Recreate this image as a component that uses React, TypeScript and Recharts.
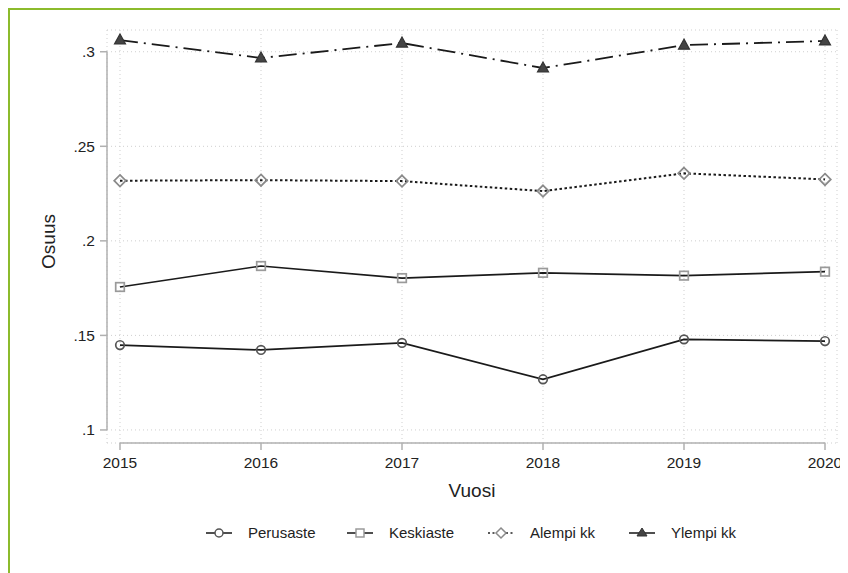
import React from 'react';
import { LineChart, Line, XAxis, YAxis, CartesianGrid, ReferenceLine } from 'recharts';

const years = [2015, 2016, 2017, 2018, 2019, 2020];
const perusaste = [0.1449, 0.1423, 0.146, 0.1268, 0.1479, 0.147];
const keskiaste = [0.1756, 0.1867, 0.1803, 0.1831, 0.1816, 0.1837];
const alempiKk = [0.2318, 0.2321, 0.2316, 0.2263, 0.2357, 0.2325];
const ylempiKk = [0.3062, 0.2967, 0.3046, 0.2914, 0.3035, 0.3057];
const yTicks = [0.1, 0.15, 0.2, 0.25, 0.3];
const yTickLabels: Record<string, string> = { '0.1': '.1', '0.15': '.15', '0.2': '.2', '0.25': '.25', '0.3': '.3' };

const data = years.map((y, i) => ({
  year: y,
  perusaste: perusaste[i],
  keskiaste: keskiaste[i],
  alempi: alempiKk[i],
  ylempi: ylempiKk[i],
}));

const FONT = '"Liberation Sans", Arial, sans-serif';
const X_DOMAIN: [number, number] = [2014.9078, 2020.0851];
const Y_DOMAIN: [number, number] = [0.0931, 0.3115];

const CircleDot = (p: any) => (
  <circle key={p.key} cx={p.cx} cy={p.cy} r={4.3} fill="none" stroke="#555" strokeWidth={1.7} />
);
const SquareDot = (p: any) => (
  <rect key={p.key} x={p.cx - 4.3} y={p.cy - 4.3} width={8.6} height={8.6} fill="none" stroke="#9a9a9a" strokeWidth={1.7} />
);
const DiamondDot = (p: any) => (
  <polygon key={p.key} points={`${p.cx},${p.cy - 5.8} ${p.cx + 5.8},${p.cy} ${p.cx},${p.cy + 5.8} ${p.cx - 5.8},${p.cy}`} fill="none" stroke="#8a8a8a" strokeWidth={1.7} />
);
const TriangleDot = (p: any) => (
  <polygon key={p.key} points={`${p.cx},${p.cy - 6} ${p.cx + 5.5},${p.cy + 4} ${p.cx - 5.5},${p.cy + 4}`} fill="#444" stroke="#333" strokeWidth={1.2} />
);

const legendItems = [
  { label: 'Perusaste', dash: undefined, marker: 'circle' },
  { label: 'Keskiaste', dash: undefined, marker: 'square' },
  { label: 'Alempi kk', dash: '2 2.5', marker: 'diamond' },
  { label: 'Ylempi kk', dash: undefined, marker: 'triangle' },
];

const LegendSymbol = ({ dash, marker }: { dash?: string; marker: string }) => {
  const cx = 13, cy = 7;
  let m: React.ReactNode = null;
  if (marker === 'circle') m = <circle cx={cx} cy={cy} r={4} fill="#fff" stroke="#555" strokeWidth={1.5} />;
  if (marker === 'square') m = <rect x={cx - 4} y={cy - 4} width={8} height={8} fill="#fff" stroke="#9a9a9a" strokeWidth={1.5} />;
  if (marker === 'diamond') m = <polygon points={`${cx},${cy - 5} ${cx + 5},${cy} ${cx},${cy + 5} ${cx - 5},${cy}`} fill="#fff" stroke="#8a8a8a" strokeWidth={1.5} />;
  if (marker === 'triangle') m = <polygon points={`${cx},${cy - 5} ${cx + 5},${cy + 3} ${cx - 5},${cy + 3}`} fill="#444" stroke="#333" strokeWidth={1} />;
  return (
    <svg width={26} height={14} style={{ display: 'block' }}>
      <line x1={0} y1={cy} x2={26} y2={cy} stroke="#222" strokeWidth={1.6} strokeDasharray={dash} />
      {m}
    </svg>
  );
};

export default function App() {
  return (
    <div
      style={{
        position: 'relative',
        width: 840,
        height: 565,
        borderLeft: '2px solid #8cbb2c',
        borderTop: '2px solid #8cbb2c',
        boxSizing: 'border-box',
        fontFamily: FONT,
        background: '#fff',
      }}
    >
      <LineChart width={838} height={563} data={data} margin={{ top: 20, right: 11, bottom: 70, left: 0 }}>
        <CartesianGrid stroke="#cfcfcf" strokeDasharray="1 3" strokeWidth={1} />
        <XAxis
          dataKey="year"
          type="number"
          domain={X_DOMAIN}
          ticks={years}
          allowDataOverflow
          height={60}
          axisLine={false}
          tickLine={{ stroke: '#b0b0b0', strokeWidth: 1.5 }}
          tickSize={7}
          tickMargin={7}
          tick={{ fill: '#222', fontSize: 15.5, fontFamily: FONT }}
          label={{ value: 'Vuosi', position: 'insideBottom', offset: 6, style: { fill: '#222', fontSize: 19, fontFamily: FONT } }}
        />
        <YAxis
          type="number"
          domain={Y_DOMAIN}
          ticks={yTicks}
          allowDataOverflow
          width={97}
          axisLine={false}
          tickLine={{ stroke: '#b0b0b0', strokeWidth: 1.5 }}
          tickSize={7}
          tickMargin={5}
          tickFormatter={(v: number) => yTickLabels[String(v)] ?? String(v)}
          tick={{ fill: '#222', fontSize: 15.5, fontFamily: FONT }}
          label={{ value: 'Osuus', angle: -90, position: 'insideLeft', offset: 38, dy: 5, style: { textAnchor: 'middle', fill: '#222', fontSize: 19, fontFamily: FONT } }}
        />
        <ReferenceLine
          segment={[{ x: X_DOMAIN[0], y: 0.1 }, { x: X_DOMAIN[0], y: 0.3 }]}
          stroke="#b0b0b0"
          strokeWidth={1.5}
          ifOverflow="visible"
        />
        <ReferenceLine
          segment={[{ x: 2015, y: Y_DOMAIN[0] }, { x: 2020, y: Y_DOMAIN[0] }]}
          stroke="#b0b0b0"
          strokeWidth={1.5}
          ifOverflow="visible"
        />
        <Line dataKey="perusaste" stroke="#1a1a1a" strokeWidth={1.7} dot={CircleDot} activeDot={false} isAnimationActive={false} />
        <Line dataKey="keskiaste" stroke="#1a1a1a" strokeWidth={1.7} dot={SquareDot} activeDot={false} isAnimationActive={false} />
        <Line dataKey="alempi" stroke="#1a1a1a" strokeWidth={2} strokeDasharray="2.5 2.5" dot={DiamondDot} activeDot={false} isAnimationActive={false} />
        <Line dataKey="ylempi" stroke="#1a1a1a" strokeWidth={1.8} strokeDasharray="18 6 2 6" dot={TriangleDot} activeDot={false} isAnimationActive={false} />
      </LineChart>
      <div style={{ position: 'absolute', left: 196, top: 514, display: 'flex', alignItems: 'center' }}>
        {legendItems.map((it) => (
          <div key={it.label} style={{ width: 141, display: 'flex', alignItems: 'center' }}>
            <LegendSymbol dash={it.dash} marker={it.marker} />
            <span style={{ marginLeft: 16, fontSize: 15, color: '#222', fontFamily: FONT, lineHeight: '18px' }}>{it.label}</span>
          </div>
        ))}
      </div>
    </div>
  );
}
